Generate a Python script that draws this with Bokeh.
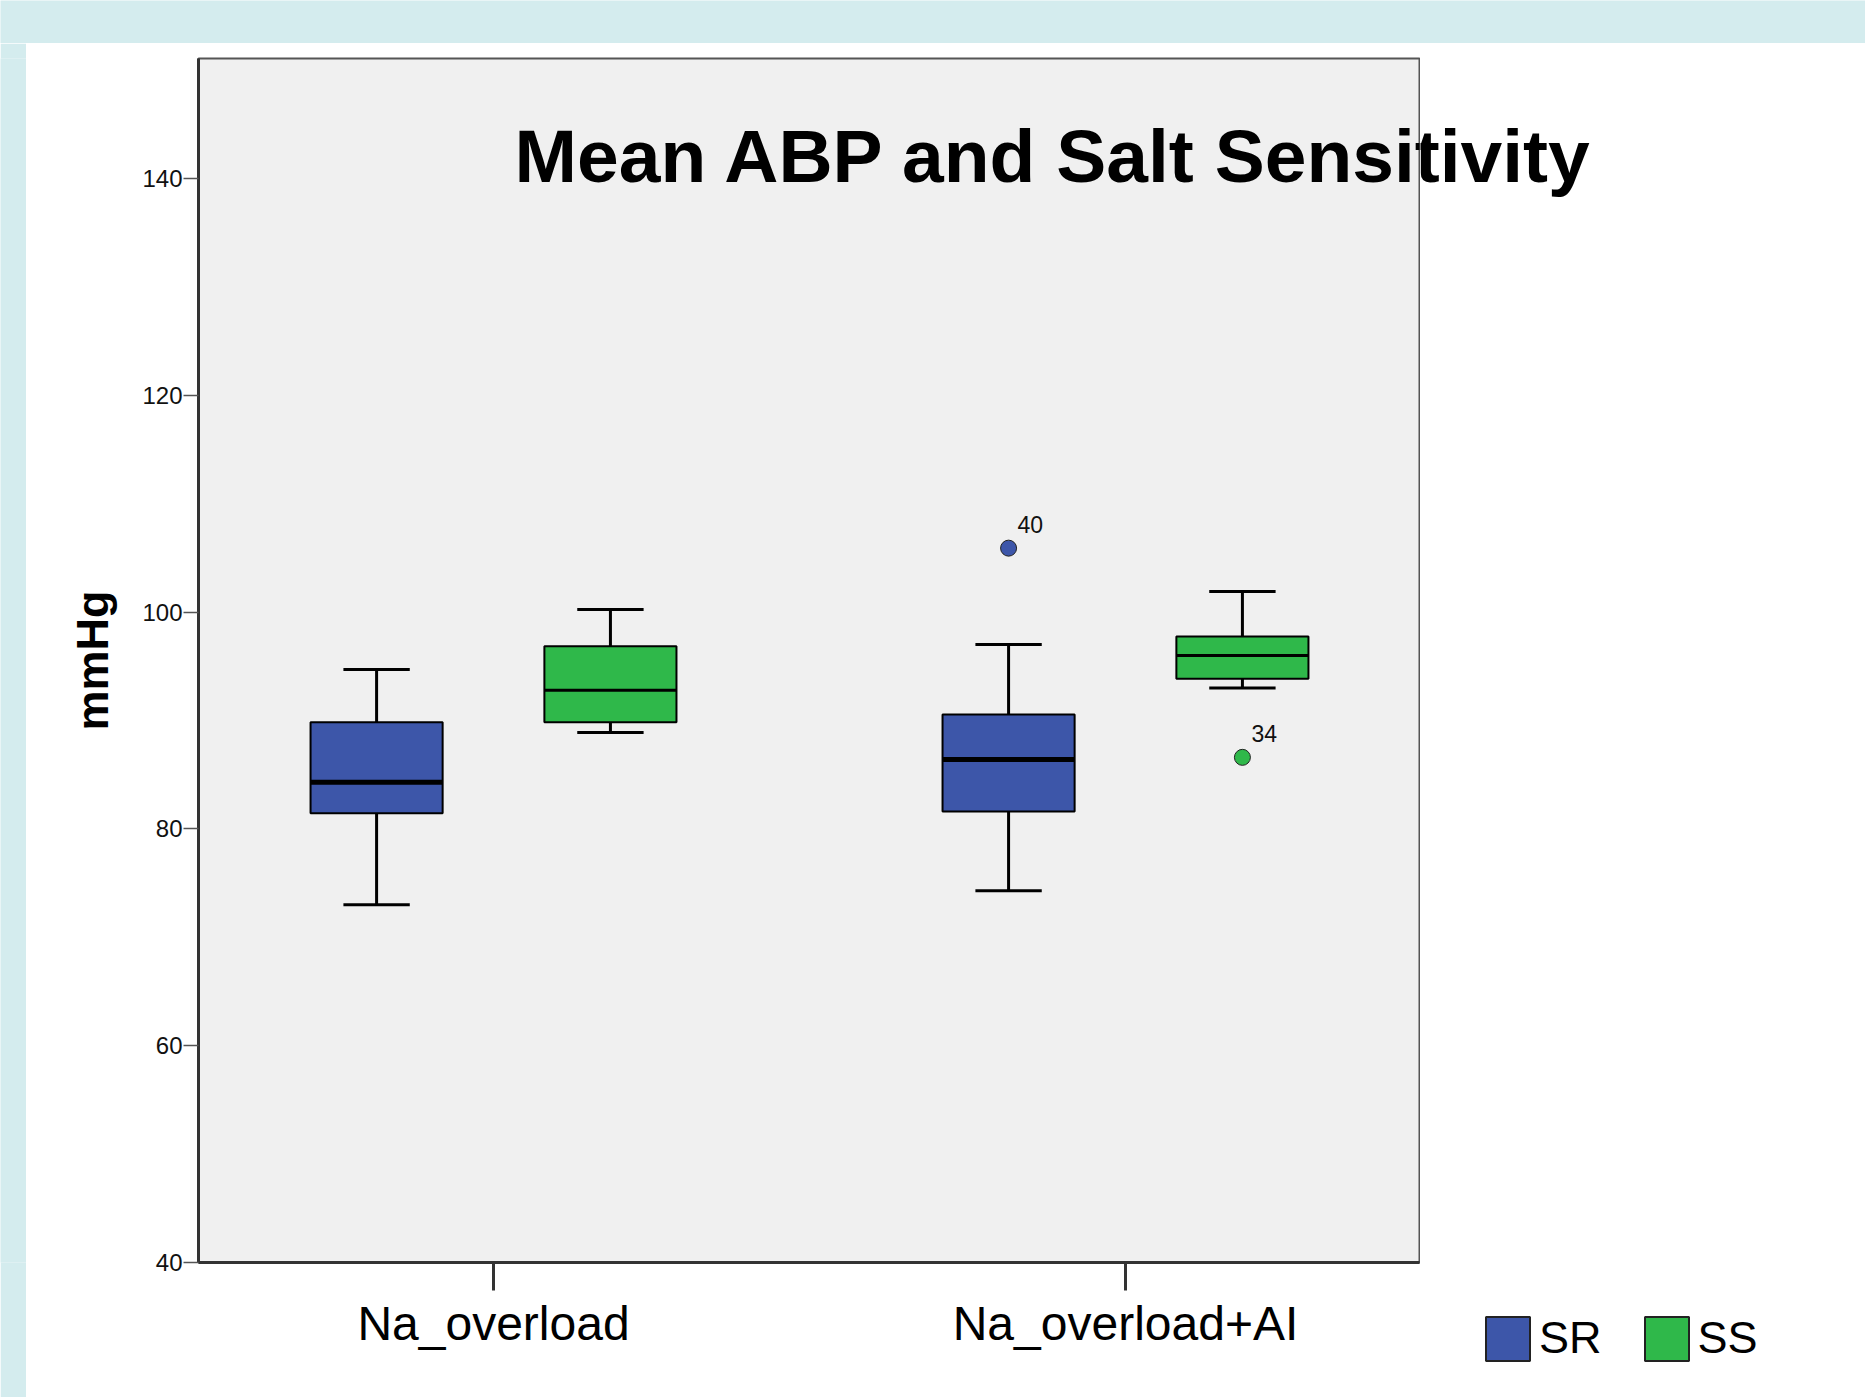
from bokeh.plotting import figure
from bokeh.layouts import column, row
from bokeh.models import (Range1d, FixedTicker, Label, Legend, LegendItem,
                          ColumnDataSource)
from bokeh.core.properties import value
from bokeh.embed import file_html
from bokeh.resources import INLINE
from bokeh.core.validation import silence
from bokeh.core.validation.warnings import MISSING_RENDERERS

silence(MISSING_RENDERERS, True)

# ---------------- data ----------------
categories = ["Na_overload", "Na_overload+AI"]
groups = ["SR", "SS"]

sr_lower = [73.0, 74.3]
sr_q1 = [81.45, 81.6]
sr_median = [84.3, 86.4]
sr_q3 = [89.85, 90.55]
sr_upper = [94.7, 97.0]

ss_lower = [88.9, 93.0]
ss_q1 = [89.85, 93.85]
ss_median = [92.8, 96.0]
ss_q3 = [96.85, 97.75]
ss_upper = [100.25, 101.9]

outlier_category = ["Na_overload+AI", "Na_overload+AI"]
outlier_group = ["SR", "SS"]
outlier_value = [105.9, 86.6]
outlier_id = ["40", "34"]

y_ticks = [40, 60, 80, 100, 120, 140]
title_text = "Mean ABP and Salt Sensitivity"
y_label = "mmHg"

# ---------------- styles / layout ----------------
FONT = "Liberation Sans"
STRIP = "#d4ecee"
colors = {"SR": "#3d56a9", "SS": "#2fb84a"}
offsets = {"SR": -0.185, "SS": 0.185}
median_width = {"SR": 5, "SS": 3}
BOX_W = 0.209
CAP_W = 0.105

PAGE_W = 1865
TOP_H = 43
LEFT_W = 26
ROW_H = 1354
MAIN_W = 1394
RIGHT_W = PAGE_W - LEFT_W - MAIN_W
LEGEND_MARGIN = 60
RTOP_H = 1306 - TOP_H - LEGEND_MARGIN

TITLE_PAGE_X = 514
TITLE_ANCHOR_Y = 112.4

X0, X1 = 0.5332, 2.4652
Y0, Y1 = 40, 151.07
FRAME_TOP = 15
FRAME_H = 1204
px_per_y = FRAME_H / (Y1 - Y0)
FRAME_LEFT = 172
FRAME_W = 1221
px_per_x = FRAME_W / (X1 - X0)

p = figure(width=MAIN_W, height=ROW_H,
           x_range=Range1d(X0, X1), y_range=Range1d(Y0, Y1),
           toolbar_location=None, output_backend="svg", title=None,
           min_border_left=FRAME_LEFT, min_border_top=FRAME_TOP,
           min_border_right=MAIN_W - FRAME_LEFT - FRAME_W,
           min_border_bottom=ROW_H - FRAME_TOP - FRAME_H,
           background_fill_color="#f0f0f0", border_fill_color="white")
p.outline_line_color = "#555555"
p.outline_line_width = 2
p.grid.visible = False

# y axis
p.yaxis.ticker = FixedTicker(ticks=y_ticks, minor_ticks=[])
p.yaxis.axis_line_color = "#333333"
p.yaxis.axis_line_width = 3
p.yaxis.major_tick_out = 15
p.yaxis.major_tick_in = 0
p.yaxis.major_tick_line_color = "#555555"
p.yaxis.major_tick_line_width = 1.5
p.yaxis.major_label_standoff = 1
p.yaxis.major_label_text_font = FONT
p.yaxis.major_label_text_font_size = "24px"
p.yaxis.major_label_text_color = "#111111"
p.yaxis.axis_label = y_label
p.yaxis.axis_label_text_font = FONT
p.yaxis.axis_label_text_font_style = "bold"
p.yaxis.axis_label_text_font_size = "45px"
p.yaxis.axis_label_text_color = "black"
p.yaxis.axis_label_standoff = 21

# x axis
cat_pos = {c: i + 1 for i, c in enumerate(categories)}
p.xaxis.ticker = FixedTicker(ticks=list(cat_pos.values()), minor_ticks=[])
p.xaxis.major_label_overrides = {v: k for k, v in cat_pos.items()}
p.xaxis.axis_line_color = "#333333"
p.xaxis.axis_line_width = 3
p.xaxis.major_tick_out = 28
p.xaxis.major_tick_in = 0
p.xaxis.major_tick_line_color = "#333333"
p.xaxis.major_tick_line_width = 3
p.xaxis.major_label_standoff = 6
p.xaxis.major_label_text_font = FONT
p.xaxis.major_label_text_font_size = "48px"
p.xaxis.major_label_text_color = "black"

stats = {
    "SR": (sr_lower, sr_q1, sr_median, sr_q3, sr_upper),
    "SS": (ss_lower, ss_q1, ss_median, ss_q3, ss_upper),
}

for g in groups:
    lo, q1, med, q3, up = stats[g]
    xs = [cat_pos[c] + offsets[g] for c in categories]
    src = ColumnDataSource(dict(
        x=xs, lower=lo, q1=q1, median=med, q3=q3, upper=up,
        cap0=[x - CAP_W / 2 for x in xs], cap1=[x + CAP_W / 2 for x in xs],
        b0=[x - BOX_W / 2 for x in xs], b1=[x + BOX_W / 2 for x in xs],
    ))
    p.segment(x0="x", y0="q3", x1="x", y1="upper", line_color="black",
              line_width=3, source=src)
    p.segment(x0="x", y0="lower", x1="x", y1="q1", line_color="black",
              line_width=3, source=src)
    p.segment(x0="cap0", y0="upper", x1="cap1", y1="upper", line_color="black",
              line_width=3, source=src)
    p.segment(x0="cap0", y0="lower", x1="cap1", y1="lower", line_color="black",
              line_width=3, source=src)
    p.vbar(x="x", width=BOX_W, bottom="q1", top="q3",
           fill_color=colors[g], line_color="black", line_width=2, source=src)
    p.segment(x0="b0", y0="median", x1="b1", y1="median", line_color="black",
              line_width=median_width[g], source=src)

out_src = ColumnDataSource(dict(
    x=[cat_pos[c] + offsets[g] for c, g in zip(outlier_category, outlier_group)],
    y=outlier_value,
    label=outlier_id,
    color=[colors[g] for g in outlier_group],
))
p.scatter(x="x", y="y", size=16, fill_color="color", line_color="#222222",
          line_width=1, source=out_src)
p.text(x="x", y="y", text="label", x_offset=9, y_offset=-24,
       text_font=value(FONT), text_font_size="23px", text_color="#111111",
       text_baseline="alphabetic", text_align="left", source=out_src)

# title: drawn in the main plot (part over the plot area) ...
title_x_data = X0 + (TITLE_PAGE_X - LEFT_W - FRAME_LEFT) / px_per_x
title_y_data = Y1 - (TITLE_ANCHOR_Y - FRAME_TOP) / px_per_y
TITLE_STYLE = dict(text=title_text, text_font=FONT, text_font_style="bold",
                   text_font_size="75px", text_color="black",
                   text_baseline="alphabetic", text_align="left")
p.add_layout(Label(x=title_x_data, y=title_y_data, **TITLE_STYLE))


def blank(w, h, fill):
    f = figure(width=w, height=h, toolbar_location=None, output_backend="svg",
               title=None, min_border=0,
               x_range=Range1d(0, w), y_range=Range1d(h, 0),
               x_axis_location=None, y_axis_location=None,
               background_fill_color=fill, border_fill_color=fill,
               outline_line_color=None)
    f.grid.visible = False
    return f


# ... continued in the right-hand panel
r_top = blank(RIGHT_W, RTOP_H, "white")
r_top.add_layout(Label(x=TITLE_PAGE_X - LEFT_W - MAIN_W, y=TITLE_ANCHOR_Y,
                       **TITLE_STYLE))

# legend panel
r_leg = blank(RIGHT_W, ROW_H - RTOP_H, "white")
swatches = {}
for g in groups:
    # hidden swatch renderer (placed far outside the view) for the legend key
    swatches[g] = r_leg.vbar(x=[1e5], top=[1e5 + 1], bottom=[1e5], width=1,
                             fill_color=colors[g], line_color="#222222",
                             line_width=2)

legend = Legend(
    items=[LegendItem(label=g, renderers=[swatches[g]]) for g in groups],
    location="top_left", orientation="horizontal",
    glyph_width=55, glyph_height=55, label_standoff=4, spacing=37,
    padding=0, margin=LEGEND_MARGIN, border_line_color=None,
    background_fill_alpha=0,
    label_text_font=FONT, label_text_font_size="45px", label_height=64,
    label_text_color="black",
)
r_leg.add_layout(legend)

top_strip = blank(PAGE_W, TOP_H, STRIP)
left_strip = blank(LEFT_W, ROW_H, STRIP)

root = column(top_strip,
              row(left_strip, p, column(r_top, r_leg, spacing=0), spacing=0),
              spacing=0)

open("out.html", "w").write(file_html(root, INLINE))
